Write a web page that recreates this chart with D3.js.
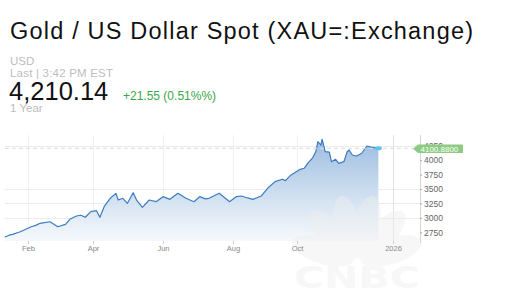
<!DOCTYPE html>
<html>
<head>
<meta charset="utf-8">
<script src="https://cdn.jsdelivr.net/npm/d3@7"></script>
<style>
  html, body { margin: 0; padding: 0; background: #fff; }
  svg { display: block; font-family: "Liberation Sans", Arial, sans-serif; }
</style>
</head>
<body>
<svg id="chart" width="514" height="301"></svg>
<script>
// ---------- DATA ----------
const dates = [
  "2025-01-11","2025-01-15","2025-01-18","2025-01-25","2025-02-04","2025-02-08","2025-02-12","2025-02-21","2025-02-28",
  "2025-03-07","2025-03-11","2025-03-17","2025-03-21","2025-03-25","2025-03-30","2025-04-04","2025-04-07",
  "2025-04-11","2025-04-16","2025-04-21","2025-04-23","2025-04-27","2025-05-01","2025-05-06",
  "2025-05-09","2025-05-14","2025-05-20","2025-05-26","2025-06-01","2025-06-07","2025-06-14",
  "2025-06-21","2025-06-28","2025-07-03","2025-07-08","2025-07-11","2025-07-20","2025-07-29","2025-08-04",
  "2025-08-09","2025-08-15","2025-08-20","2025-08-28","2025-09-03","2025-09-10","2025-09-17","2025-09-20",
  "2025-09-25","2025-09-28","2025-10-04","2025-10-08","2025-10-12","2025-10-16","2025-10-19",
  "2025-10-21","2025-10-24","2025-10-25","2025-10-26","2025-10-28","2025-11-01","2025-11-03",
  "2025-11-07","2025-11-10","2025-11-15","2025-11-18","2025-11-20","2025-11-23","2025-11-27",
  "2025-12-02","2025-12-07","2025-12-11","2025-12-18"
];
const values = [
  2668, 2700, 2715, 2760, 2847, 2870, 2906, 2933, 2847,
  2888, 2975, 3032, 3045, 3010, 3107, 3124, 3010,
  3205, 3339, 3425, 3309, 3339, 3252, 3436,
  3309, 3183, 3309, 3280, 3367, 3321, 3425,
  3339, 3280, 3367, 3330, 3339, 3425, 3280, 3367,
  3379, 3345, 3321, 3379, 3512, 3627, 3668, 3645,
  3740, 3772, 3841, 3860, 3960, 4040, 4146,
  4320, 4260, 4361, 4300, 4146, 4140, 3973,
  4015, 3945, 3973, 4145, 4176, 4089, 4072,
  4119, 4245, 4225, 4205
];
const xTickDates = ["2025-02-01","2025-04-01","2025-06-01","2025-08-01","2025-10-01","2026-01-01"];
const xTickLabels = ["Feb","Apr","Jun","Aug","Oct","2026"];
const yTicks = [2750, 3000, 3250, 3500, 3750, 4000, 4250];
const yGridValues = [3000, 3250, 3500, 4250];
const lastLabel = "4100.8800";
const lastValue = 4205;

// ---------- SETUP ----------
const parse = d3.timeParse("%Y-%m-%d");
const data = dates.map((d, i) => ({ date: parse(d), value: values[i] }));
const tickDates = xTickDates.map(parse);

const svg = d3.select("#chart");

const x = d3.scaleTime()
  .domain(tickDates)
  .range([28, 93, 163, 233, 297, 393]);
const y = d3.scaleLinear().domain([2750, 4250]).range([232.3, 145.7]);

const plotTop = 135, plotBottom = 241, plotLeft = 5, axisX = 420;

// ---------- HEADER ----------
svg.append("text").attr("x", 10).attr("y", 38.5)
  .attr("font-size", 23.5).attr("fill", "#111")
  .attr("textLength", 463).attr("lengthAdjust", "spacing")
  .text("Gold / US Dollar Spot (XAU=:Exchange)");
svg.append("text").attr("x", 10).attr("y", 65)
  .attr("font-size", 11.5).attr("fill", "#bdbdbd").text("USD");
svg.append("text").attr("x", 10).attr("y", 77.3)
  .attr("font-size", 11.5).attr("fill", "#bdbdbd")
  .attr("textLength", 103).attr("lengthAdjust", "spacing").text("Last | 3:42 PM EST");
svg.append("text").attr("x", 9).attr("y", 100)
  .attr("font-size", 25.5).attr("fill", "#111").text("4,210.14");
svg.append("text").attr("x", 123).attr("y", 100)
  .attr("font-size", 12).attr("fill", "#3aa64a").text("+21.55 (0.51%%)");
svg.append("text").attr("x", 10).attr("y", 112)
  .attr("font-size", 11.5).attr("fill", "#bdbdbd").text("1 Year");

// ---------- GRID ----------
const defs = svg.append("defs");
const grad = defs.append("linearGradient").attr("id", "areaGrad")
  .attr("gradientUnits", "userSpaceOnUse")
  .attr("x1", 0).attr("x2", 0).attr("y1", 139).attr("y2", plotBottom);
grad.append("stop").attr("offset", 0).attr("stop-color", "#9dbde0");
grad.append("stop").attr("offset", 0.55).attr("stop-color", "#cfdff0");
grad.append("stop").attr("offset", 1).attr("stop-color", "#f6f9fc");

svg.append("g").selectAll("line").data(yGridValues).join("line")
  .attr("x1", plotLeft).attr("x2", axisX)
  .attr("y1", d => Math.round(y(d)) + 0.5).attr("y2", d => Math.round(y(d)) + 0.5)
  .attr("stroke", "#ececec").attr("stroke-width", 1);

svg.append("g").selectAll("line").data(tickDates).join("line")
  .attr("x1", d => Math.round(x(d)) + 0.5).attr("x2", d => Math.round(x(d)) + 0.5)
  .attr("y1", plotTop).attr("y2", plotBottom)
  .attr("stroke", (d, i) => i === tickDates.length - 1 ? "#e2e2e2" : "#f0f0f0")
  .attr("stroke-width", 1);

// ---------- AREA ----------
const area = d3.area().x(d => x(d.date)).y0(plotBottom).y1(d => y(d.value));
svg.append("path").datum(data).attr("d", area).attr("fill", "url(#areaGrad)");

// ---------- WATERMARK ----------
const wm = svg.append("g").attr("opacity", 0.45);
const cx = 357, cy = 262;
const feathers = [-72, -43, -14, 14, 43, 72];
feathers.forEach(a => {
  const rad = (a - 90) * Math.PI / 180;
  const dist = 36;
  const ex = cx + dist * Math.cos(rad), ey = cy + dist * Math.sin(rad);
  wm.append("ellipse")
    .attr("cx", ex).attr("cy", ey)
    .attr("rx", 13).attr("ry", 32)
    .attr("transform", `rotate(${a},${ex},${ey})`)
    .attr("fill", "#eeeeee");
});
wm.append("text").attr("x", 294).attr("y", 288)
  .attr("font-family", "DejaVu Sans").attr("font-weight", "bold")
  .attr("font-size", 30).attr("textLength", 126).attr("lengthAdjust", "spacingAndGlyphs")
  .attr("fill", "#eeeeee").text("CNBC");

// ---------- LINE ----------
const line = d3.line().x(d => x(d.date)).y(d => y(d.value));
svg.append("path").datum(data).attr("d", line)
  .attr("fill", "none").attr("stroke", "#3b7cc0").attr("stroke-width", 1.2)
  .attr("stroke-linejoin", "round");

// dashed last-value line
svg.append("line").attr("x1", plotLeft).attr("x2", 413)
  .attr("y1", y(lastValue)).attr("y2", y(lastValue))
  .attr("stroke", "#dcdcdc").attr("stroke-dasharray", "4,3").attr("stroke-width", 1);

// endpoint marker
const last = data[data.length - 1];
svg.append("ellipse").attr("cx", x(last.date)).attr("cy", y(last.value))
  .attr("rx", 3.5).attr("ry", 2).attr("fill", "#5cc3f2");

// ---------- AXES ----------
svg.append("line").attr("x1", axisX + 0.5).attr("x2", axisX + 0.5)
  .attr("y1", plotTop).attr("y2", 243).attr("stroke", "#d6d6d6");

const yAxisG = svg.append("g").attr("transform", `translate(${axisX},0)`)
  .call(d3.axisRight(y).tickValues(yTicks).tickSize(2).tickPadding(2).tickFormat(d3.format("d")));
yAxisG.select(".domain").remove();
yAxisG.selectAll("line").attr("stroke", "#aaa");
yAxisG.selectAll("text").attr("font-size", 8.5).attr("fill", "#666")
  .attr("font-family", "Liberation Sans, Arial, sans-serif");

const xAxisG = svg.append("g").attr("transform", `translate(0,${plotBottom})`)
  .call(d3.axisBottom(x).tickValues(tickDates).tickSize(3).tickPadding(2)
    .tickFormat((d, i) => xTickLabels[i]));
xAxisG.select(".domain").remove();
xAxisG.selectAll("line").attr("stroke", "#cfcfcf");
xAxisG.selectAll("text").attr("font-size", 7.5).attr("fill", "#888")
  .attr("font-family", "Liberation Sans, Arial, sans-serif");

// ---------- LAST PRICE LABEL ----------
const ly = y(lastValue) + 0.5;
const lbl = svg.append("g");
lbl.append("path")
  .attr("d", `M413,${ly} L418,${ly - 4.3} L463,${ly - 4.3} L463,${ly + 4.3} L418,${ly + 4.3} Z`)
  .attr("fill", "#8dca82");
lbl.append("text").attr("x", 420.5).attr("y", ly + 3)
  .attr("font-size", 8).attr("fill", "#fff").text(lastLabel);
</script>
</body>
</html>
